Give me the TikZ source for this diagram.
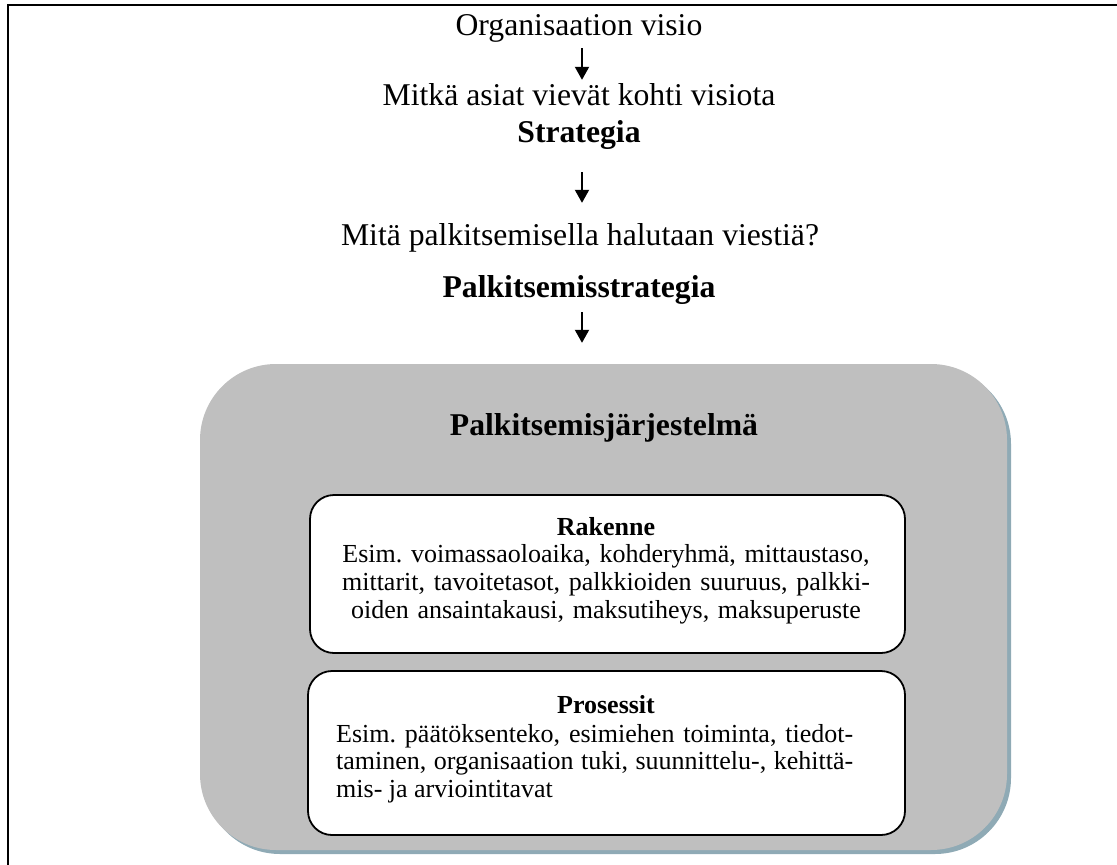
\documentclass[tikz,border=0pt]{standalone}
\usepackage{fontspec}
\setmainfont{Liberation Serif}
\usetikzlibrary{arrows.meta,shadows}
\definecolor{boxgray}{RGB}{191,191,191}
\definecolor{shadowc}{RGB}{143,170,181}
\frenchspacing
\begin{document}
\begin{tikzpicture}[x=1pt,y=-1pt,
  big/.style={inner sep=0pt, font=\fontsize{31.7}{38}\selectfont, text height=22pt, text depth=7pt, anchor=base},
  bigb/.style={big, font=\fontsize{31.7}{38}\selectfont\bfseries},
  arr/.style={line width=2pt, -{Triangle[width=14pt,length=13pt]}},
  frame/.style={line width=2pt},
  sysbox/.style={draw=none, fill=boxgray, rounded corners=76pt, inner sep=0pt,
    drop shadow={shadow xshift=4pt, shadow yshift=-4pt, fill=shadowc, opacity=1}},
  inbox/.style={draw, line width=1.8pt, fill=white, rounded corners=24pt, inner sep=0pt},
  small/.style={inner sep=0pt, font=\fontsize{26}{27.7}\selectfont\sloppy\frenchspacing},
]
\useasboundingbox (0,0) rectangle (1117,865);
\draw[frame] (1117,5) -- (8,5) -- (8,865);

\node[big]  (vis)    at (579,35)  {Organisaation visio};
\node[big]  (mitka)  at (579,105) {Mitkä asiat vievät kohti visiota};
\node[bigb] (strat)  at (579,142) {Strategia};
\node[big]  (mita)   at (580,245) {Mitä palkitsemisella halutaan viestiä?};
\node[bigb] (pstrat) at (579,297) {Palkitsemisstrategia};

\node[sysbox, minimum width=807pt, minimum height=486pt] (sys) at (603.5,607) {};
\node[bigb] (systitle) at (604,435) {Palkitsemisjärjestelmä};

\node[inbox, minimum width=595pt, minimum height=158pt] (rak)  at (607.5,574) {};
\node[inbox, minimum width=597pt, minimum height=164pt] (pros) at (606.5,753) {};

\node[small, text width=590pt, align=center, anchor=base] (raktxt) at (606,535)
  {\textbf{Rakenne}\\Esim. voimassaoloaika, kohderyhmä, mittaustaso,\\mittarit, tavoitetasot, palkkioiden suuruus, palkki-\\oiden ansaintakausi, maksutiheys, maksuperuste};
\node[small, anchor=base] (prostitle) at (606,713) {\textbf{Prosessit}};
\node[small, text width=517pt, align=justify, anchor=base west] (prostxt) at (336,742)
  {Esim. päätöksenteko, esimiehen toiminta, tiedot-\linebreak{}taminen, organisaation tuki, suunnittelu-, kehittä-\linebreak{}mis- ja arviointitavat};

\draw[arr, shorten <=6pt, shorten >=3pt] ([xshift=3pt]vis.south) -- ([xshift=3pt]mitka.north);
\draw[arr, shorten <=23pt, shorten >=20pt] ([xshift=3pt]strat.south) -- ([xshift=2pt]mita.north);
\draw[arr, shorten <=8pt, shorten >=21pt] ([xshift=3pt]pstrat.south) -- ([xshift=3pt]pstrat.south |- sys.north);
\end{tikzpicture}
\end{document}
